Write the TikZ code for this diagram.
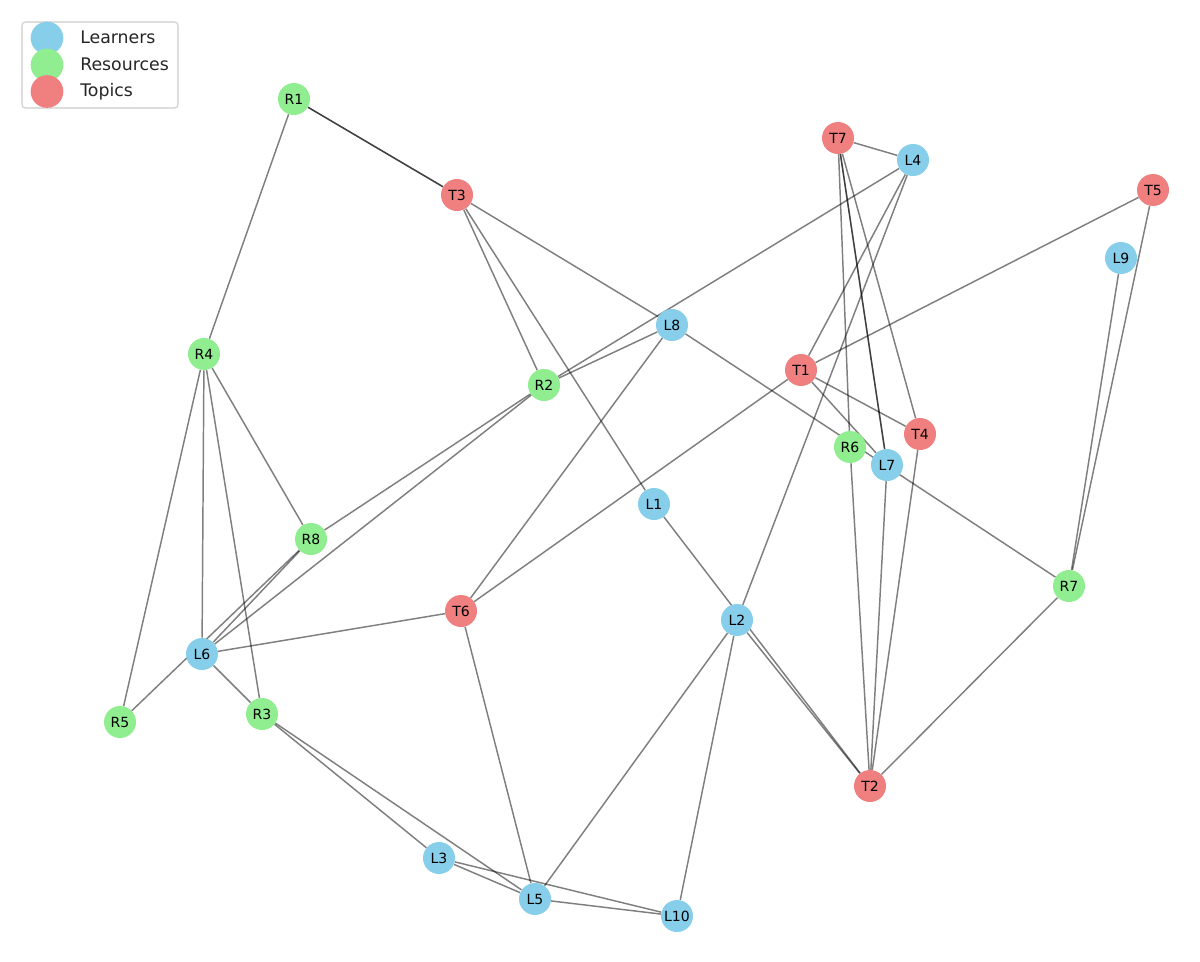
\documentclass[tikz,border=0pt]{standalone}
\usepackage{fontspec}
\setmainfont{DejaVu Sans}
\definecolor{skyblue}{HTML}{87CEEB}
\definecolor{lgreen}{HTML}{90EE90}
\definecolor{lcoral}{HTML}{F08080}
\definecolor{legtext}{HTML}{262626}
\pgfdeclarelayer{background}
\pgfsetlayers{background,main}
\begin{document}
\begin{tikzpicture}[x=0.75pt,y=-0.75pt,
  vtx/.style={circle, minimum size=24pt, inner sep=0pt, font=\fontsize{10.5}{12}\selectfont},
  learner/.style={vtx, fill=skyblue},
  resource/.style={vtx, fill=lgreen},
  topic/.style={vtx, fill=lcoral},
  edge/.style={draw=black, draw opacity=0.5, line width=1.1pt},
  legmark/.style={circle, minimum size=24.5pt, inner sep=0pt},
  legtxt/.style={anchor=base west, inner sep=0pt, text=legtext, font=\fontsize{13}{15}\selectfont}]
\useasboundingbox (0,0) rectangle (1200,961);
% nodes
\node[resource] (R1) at (294,99) {R1};
\node[topic] (T3) at (457,195) {T3};
\node[topic] (T7) at (838,138) {T7};
\node[learner] (L4) at (913,160) {L4};
\node[topic] (T5) at (1153,190) {T5};
\node[learner] (L9) at (1121,258) {L9};
\node[learner] (L8) at (672,325) {L8};
\node[resource] (R4) at (204,354) {R4};
\node[resource] (R2) at (544,385) {R2};
\node[topic] (T1) at (801,370) {T1};
\node[topic] (T4) at (920,434) {T4};
\node[resource] (R6) at (850,447) {R6};
\node[learner] (L7) at (887,465) {L7};
\node[learner] (L1) at (654,504) {L1};
\node[resource] (R8) at (311,539) {R8};
\node[resource] (R7) at (1069,586) {R7};
\node[topic] (T6) at (461,611) {T6};
\node[learner] (L2) at (737,620) {L2};
\node[learner] (L6) at (202,654) {L6};
\node[resource] (R5) at (120,722) {R5};
\node[resource] (R3) at (262,714) {R3};
\node[topic] (T2) at (870,786) {T2};
\node[learner] (L3) at (439,858) {L3};
\node[learner] (L5) at (535,899) {L5};
\node[learner] (L10) at (677,916) {L10};
% edges
\begin{pgfonlayer}{background}
\foreach \a/\b in {R1/T3, R1/T3, T3/L8, R1/R4, T3/R2, T3/L1, L1/T2, L2/T2,
  T7/L4, T7/R6, T7/L7, T7/L7, T7/T4, L4/R2, R2/R8, L4/T1, L4/L2,
  T5/T1, T5/R7, L9/R7, L8/R2, L8/R7, L8/T6, T1/T6, T1/T4, T1/L7,
  R6/T2, L7/T2, T4/T2, R7/T2, L2/L5, L2/L10, R4/L6, R4/R8, R4/R3, R4/R5,
  R2/L6, R5/R8, L6/R8, L6/T6, L6/R3, R3/L3, R3/L5, T6/L5, L3/L5, L3/L10, L5/L10}
  \draw[edge] (\a) -- (\b);
\end{pgfonlayer}
% legend
\draw[draw=black!20, fill=white, line width=0.8pt, rounded corners=2.5pt] (22,22) rectangle (178,108);
\node[legmark, fill=skyblue] (m1) at (47,38) {};
\node[legmark, fill=lgreen] (m2) at (47,65) {};
\node[legmark, fill=lcoral] (m3) at (47,91.5) {};
\node[legtxt] (t1) at (80,43.3) {Learners};
\node[legtxt] (t2) at (80,70) {Resources};
\node[legtxt] (t3) at (80,96.7) {Topics};
\end{tikzpicture}
\end{document}
